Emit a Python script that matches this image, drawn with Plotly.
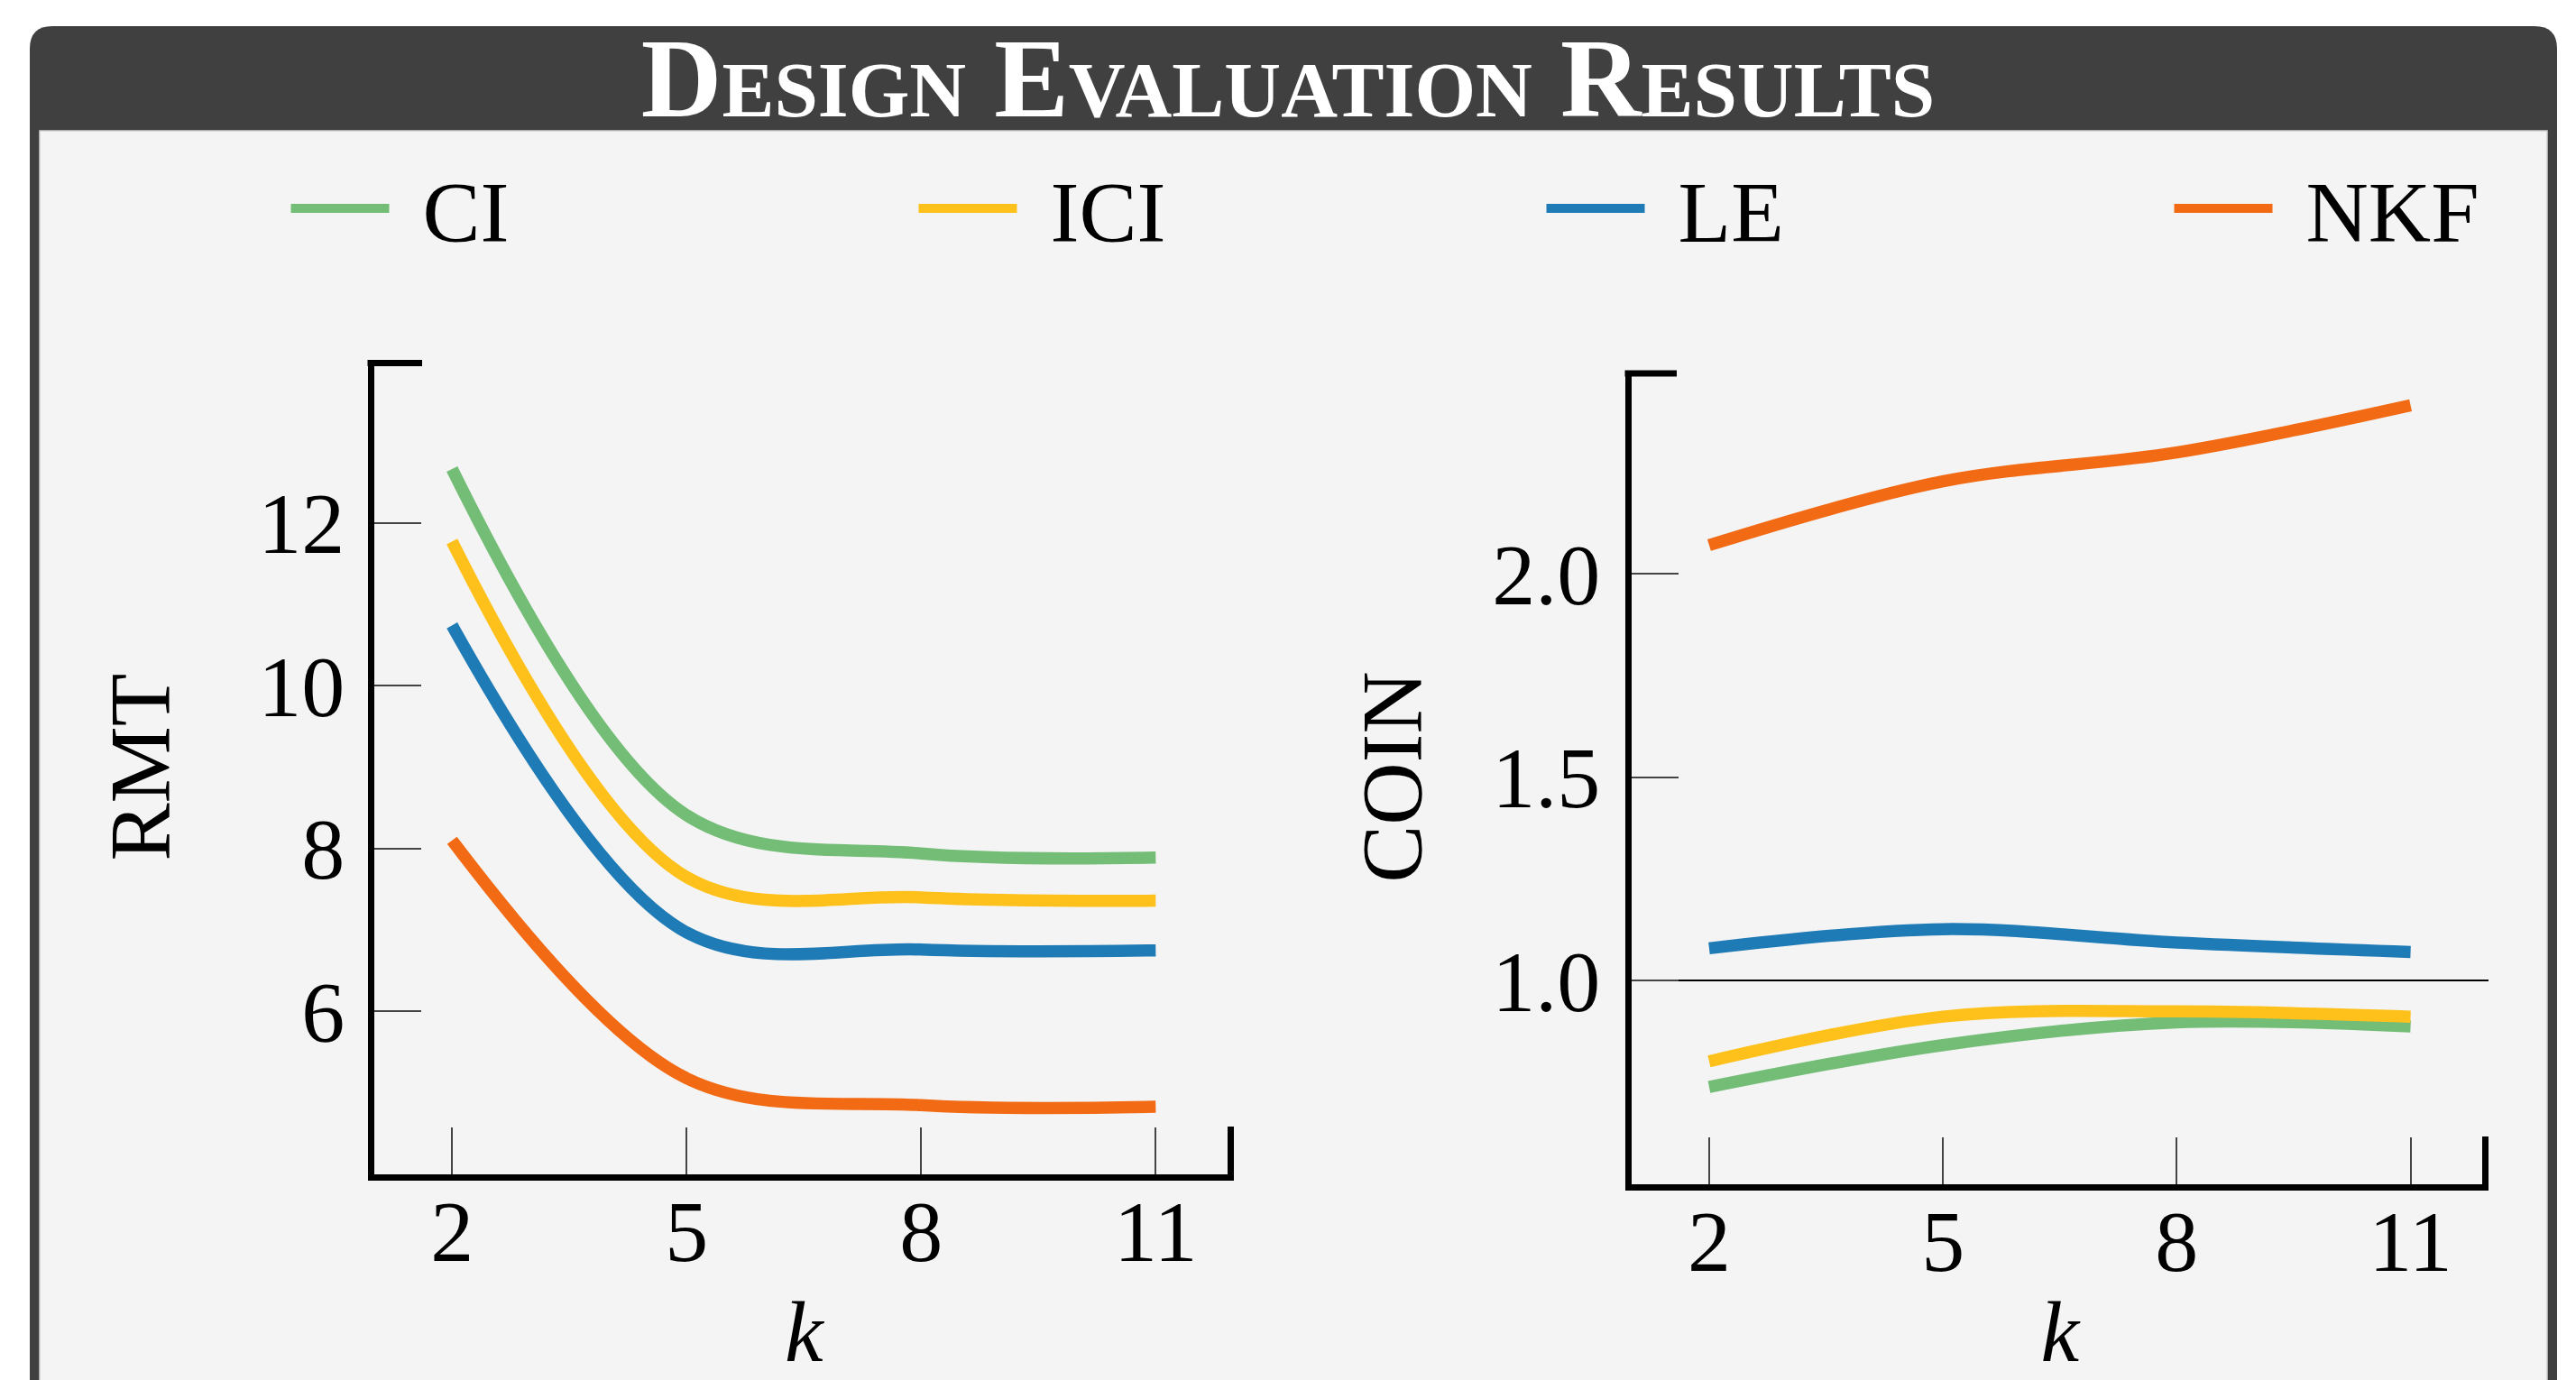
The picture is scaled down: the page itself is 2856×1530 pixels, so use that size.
import plotly.graph_objects as go

# ---------------- data ----------------
k_values = [2, 5, 8, 11]
series_names = ["CI", "ICI", "LE", "NKF"]
series_colors = ["#74BD76", "#FEC11B", "#1F7BB6", "#F26A14"]

rmt_ci = [12.66, 8.41, 7.94, 7.89]
rmt_ici = [11.77, 7.65, 7.40, 7.36]
rmt_le = [10.74, 6.97, 6.76, 6.75]
rmt_nkf = [8.10, 5.18, 4.85, 4.83]

coin_ci = [0.738, 0.841, 0.897, 0.887]
coin_ici = [0.801, 0.911, 0.924, 0.911]
coin_le = [1.079, 1.126, 1.093, 1.070]
coin_nkf = [2.07, 2.227, 2.298, 2.414]

rmt_ticks = [6, 8, 10, 12]
coin_ticks = [1.0, 1.5, 2.0]
title_text = "Design Evaluation Results"

# ---------------- layout helpers ----------------
W, H = 2856, 1530
FONT = "Liberation Serif"
FS = 96
GAP = "\u2004"  # space between legend line sample and its label


def fx(x):
    return x / W


def fy(y):
    return 1 - y / H


fig = go.Figure()

rmt = [rmt_ci, rmt_ici, rmt_le, rmt_nkf]
coin = [coin_ci, coin_ici, coin_le, coin_nkf]
for name, color, yv in zip(series_names, series_colors, rmt):
    fig.add_trace(go.Scatter(x=k_values, y=yv, name=GAP + name, mode="lines",
                             line=dict(color=color, width=13.5, shape="spline"),
                             xaxis="x", yaxis="y", legendgroup=name, showlegend=True))
for name, color, yv in zip(series_names, series_colors, coin):
    fig.add_trace(go.Scatter(x=k_values, y=yv, name=GAP + name, mode="lines",
                             line=dict(color=color, width=13.5, shape="spline"),
                             xaxis="x2", yaxis="y2", legendgroup=name, showlegend=False))

axis_common = dict(
    showline=True, linecolor="black", linewidth=7,
    ticks="inside", ticklen=52, tickwidth=1.5, tickcolor="#444444",
    showgrid=False, zeroline=False, automargin=False,
    tickfont=dict(family=FONT, size=FS, color="black"),
    title_font=dict(family=FONT, size=FS, color="black"),
)

left_x = [fx(414.5), fx(1368)]
left_y = [fy(1302), fy(399)]
right_x = [fx(1808.5), fx(2759)]
right_y = [fy(1312.5), fy(410.5)]

fig.update_layout(
    width=W, height=H,
    margin=dict(l=0, r=0, t=0, b=0, pad=0, autoexpand=False),
    paper_bgcolor="white",
    plot_bgcolor="rgba(0,0,0,0)",
    font=dict(family=FONT, size=FS, color="black"),
    title=dict(text=title_text, x=0.5, xanchor="center", y=fy(86), yanchor="middle",
               yref="container", automargin=False,
               font=dict(family=FONT, size=124, color="white", weight="bold",
                         variant="small-caps")),
    xaxis=dict(domain=left_x, anchor="y", range=[1, 12], tickvals=k_values,
               title=dict(text="<i>k</i>", standoff=40), ticklabelstandoff=-26, **axis_common),
    yaxis=dict(domain=left_y, anchor="x", range=[4, 14], tickvals=rmt_ticks,
               title=dict(text="RMT", standoff=68), ticklabelstandoff=6, **axis_common),
    xaxis2=dict(domain=right_x, anchor="y2", range=[1, 12], tickvals=k_values,
                title=dict(text="<i>k</i>", standoff=40), ticklabelstandoff=-26, **axis_common),
    yaxis2=dict(domain=right_y, anchor="x2", range=[0.5, 2.5], tickvals=coin_ticks,
                tickformat=".1f",
                title=dict(text="COIN", standoff=48), ticklabelstandoff=8, **axis_common),
    legend=dict(orientation="h", x=fx(317.5), xanchor="left", y=fy(231), yanchor="middle",
                bgcolor="rgba(0,0,0,0)", borderwidth=0,
                entrywidth=572, entrywidthmode="pixels", itemwidth=109,
                font=dict(family=FONT, size=FS, color="black")),
    showlegend=True,
)

# frame: dark rounded header box + light body
r = 25
x0, x1, y0, y1 = 33, 2835, 29, 1600
path = (f"M {fx(x0)},{fy(y1)} L {fx(x0)},{fy(y0 + r)} Q {fx(x0)},{fy(y0)} {fx(x0 + r)},{fy(y0)} "
        f"L {fx(x1 - r)},{fy(y0)} Q {fx(x1)},{fy(y0)} {fx(x1)},{fy(y0 + r)} L {fx(x1)},{fy(y1)} Z")
fig.add_shape(type="path", path=path, xref="paper", yref="paper",
              fillcolor="#404040", line=dict(width=0), layer="below")
fig.add_shape(type="rect", xref="paper", yref="paper",
              x0=fx(44), x1=fx(2824), y0=fy(1600), y1=fy(145),
              fillcolor="#f4f4f4", line=dict(color="#cfcfcf", width=1.5), layer="below")

# bracket caps on the axes
cap = dict(color="black", width=7)
fig.add_shape(type="line", xref="paper", yref="paper",
              x0=fx(407.5), x1=fx(468), y0=fy(402.5), y1=fy(402.5), line=cap)
fig.add_shape(type="line", xref="paper", yref="paper",
              x0=fx(1364.5), x1=fx(1364.5), y0=fy(1249), y1=fy(1309), line=cap)
fig.add_shape(type="line", xref="paper", yref="paper",
              x0=fx(1801.5), x1=fx(1859), y0=fy(414), y1=fy(414), line=cap)
fig.add_shape(type="line", xref="paper", yref="paper",
              x0=fx(2755.5), x1=fx(2755.5), y0=fy(1260), y1=fy(1319.5), line=cap)

# reference line COIN = 1.0
fig.add_shape(type="line", xref="x2 domain", yref="y2", x0=0, x1=1, y0=1.0, y1=1.0,
              line=dict(color="black", width=2), layer="below")

fig.write_html("out.html", config={"displayModeBar": False},
               post_script="document.body.style.margin='0';document.body.style.overflow='hidden';")
